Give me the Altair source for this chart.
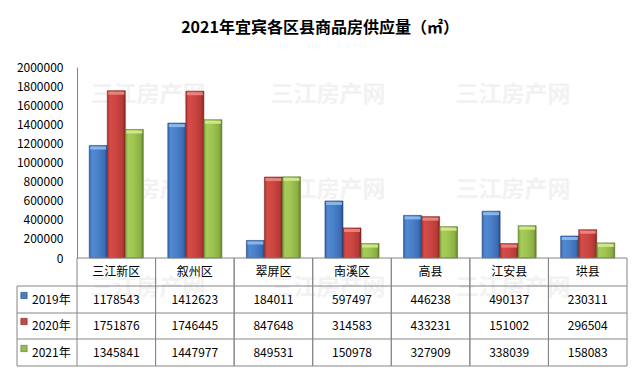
import altair as alt
import pandas as pd

# ---------------- data ----------------
categories = ["三江新区", "叙州区", "翠屏区", "南溪区", "高县", "江安县", "珙县"]
years = ["2019年", "2020年", "2021年"]
v2019 = [1178543, 1412623, 184011, 597497, 446238, 490137, 230311]
v2020 = [1751876, 1746445, 847648, 314583, 433231, 151002, 296504]
v2021 = [1345841, 1447977, 849531, 150978, 327909, 338039, 158083]
y_ticks = [0, 200000, 400000, 600000, 800000, 1000000, 1200000,
           1400000, 1600000, 1800000, 2000000]
title_text = "2021年宜宾各区县商品房供应量（㎡）"
watermark = "三江房产网"

rows = []
for yr, vals in zip(years, [v2019, v2020, v2021]):
    for c, v in zip(categories, vals):
        rows.append({"区县": c, "年份": yr, "供应量": v})
df = pd.DataFrame(rows)
cat_df = pd.DataFrame({"区县": categories})
one = pd.DataFrame({"k": [0]})

# ---------------- style ----------------
FONT = "Noto Sans CJK SC"
W, H = 550, 191
GRID = "#868686"
styles = {
    "2019年": dict(stops=[(0, "#3565a8"), (0.15, "#5089d2"), (0.5, "#4a80c8"), (0.85, "#3a6db5"), (1, "#264d85")],
                  edge="#22477d", cap="#8fbcf0", key="#4a7ebb"),
    "2020年": dict(stops=[(0, "#a8322f"), (0.15, "#d44c47"), (0.5, "#cc4541"), (0.85, "#b53a36"), (1, "#862522")],
                  edge="#7a2220", cap="#ee8a84", key="#be4b48"),
    "2021年": dict(stops=[(0, "#7d9c3a"), (0.15, "#a6cc5a"), (0.5, "#9dc350"), (0.85, "#8bae45"), (1, "#62802a")],
                  edge="#5a7526", cap="#d4ec92", key="#98b954"),
}

x_enc = alt.X("区县:N", sort=categories,
              scale=alt.Scale(domain=categories, paddingInner=0, paddingOuter=0),
              axis=None)
xo_enc = alt.XOffset("年份:N", sort=years,
                     scale=alt.Scale(domain=years, paddingInner=0, paddingOuter=0.68))
y_enc = alt.Y("供应量:Q",
              scale=alt.Scale(domain=[0, 2000000], nice=False),
              axis=alt.Axis(values=y_ticks, title=None, grid=False, ticks=False,
                            labelPadding=14, labelFontSize=12, labelColor="#000000",
                            labelFont=FONT, domainColor=GRID, format="d"))

layers = []

# watermark
wm_x = [71, 251, 436]
wm_y = [28, 123, 221]
for wy in wm_y:
    for wx in wm_x:
        layers.append(
            alt.Chart(one).mark_text(text=watermark, font=FONT, fontSize=23,
                                     fontWeight="bold", color="#f2f2f2")
            .encode(x=alt.value(wx), y=alt.value(wy))
        )

# bars
for yr in years:
    st = styles[yr]
    grad = alt.Gradient(gradient="linear", x1=0, x2=1, y1=0, y2=0,
                        stops=[alt.GradientStop(offset=o, color=c) for o, c in st["stops"]])
    sub = alt.Chart(df).transform_filter(alt.datum["年份"] == yr)
    layers.append(
        sub.mark_bar(fill=grad, stroke=st["edge"], strokeWidth=0.6)
        .encode(x=x_enc, xOffset=xo_enc, y=y_enc)
    )
    layers.append(
        sub.mark_tick(color=st["cap"], size=16, thickness=3, yOffset=2.5, opacity=0.9)
        .encode(x=x_enc, xOffset=xo_enc, y=y_enc)
    )

# table grid lines
row_tops = [219, 246, 272, 299]
layers.append(alt.Chart(one).mark_rule(color=GRID, strokeWidth=1)
              .encode(x=alt.value(0), x2=alt.value(W), y=alt.value(191)))
for ry in row_tops:
    layers.append(alt.Chart(one).mark_rule(color=GRID, strokeWidth=1)
                  .encode(x=alt.value(-60), x2=alt.value(W), y=alt.value(ry)))
layers.append(alt.Chart(one).mark_rule(color=GRID, strokeWidth=1)
              .encode(x=alt.value(-60), y=alt.value(219), y2=alt.value(299)))
for bp in [0, 1]:
    layers.append(
        alt.Chart(cat_df).mark_rule(color=GRID, strokeWidth=1)
        .encode(x=alt.X("区县:N", sort=categories, bandPosition=bp,
                        scale=alt.Scale(domain=categories, paddingInner=0, paddingOuter=0),
                        axis=None),
                y=alt.value(191), y2=alt.value(299))
    )

# header text
layers.append(
    alt.Chart(cat_df).mark_text(font=FONT, fontSize=12, color="#000000")
    .encode(x=x_enc, y=alt.value(205), text="区县:N")
)

# value rows
row_centers = [233, 259, 286]
for yr, ry in zip(years, row_centers):
    st = styles[yr]
    layers.append(
        alt.Chart(df).transform_filter(alt.datum["年份"] == yr)
        .mark_text(font=FONT, fontSize=12, color="#000000")
        .encode(x=x_enc, y=alt.value(ry), text=alt.Text("供应量:Q", format="d"))
    )
    layers.append(
        alt.Chart(one).mark_text(text=yr, font=FONT, fontSize=12, color="#000000", align="left")
        .encode(x=alt.value(-45), y=alt.value(ry))
    )
    layers.append(
        alt.Chart(one).mark_square(size=40, color=st["key"], stroke=st["edge"],
                                   strokeWidth=0.6, opacity=1)
        .encode(x=alt.value(-53), y=alt.value(ry - 4.5))
    )

chart = (
    alt.layer(*layers)
    .properties(
        width=W, height=H,
        autosize=alt.AutoSizeParams(type="none"),
        padding={"left": 69, "top": 59, "right": 5, "bottom": 110},
        title=alt.TitleParams(title_text, font=FONT, fontSize=16, fontWeight="bold",
                              color="#000000", anchor="middle", dx=-32, offset=25),
        background="#ffffff",
    )
    .configure_view(stroke=None)
)

chart.save("out.html", embed_options={"renderer": "svg", "actions": False})
